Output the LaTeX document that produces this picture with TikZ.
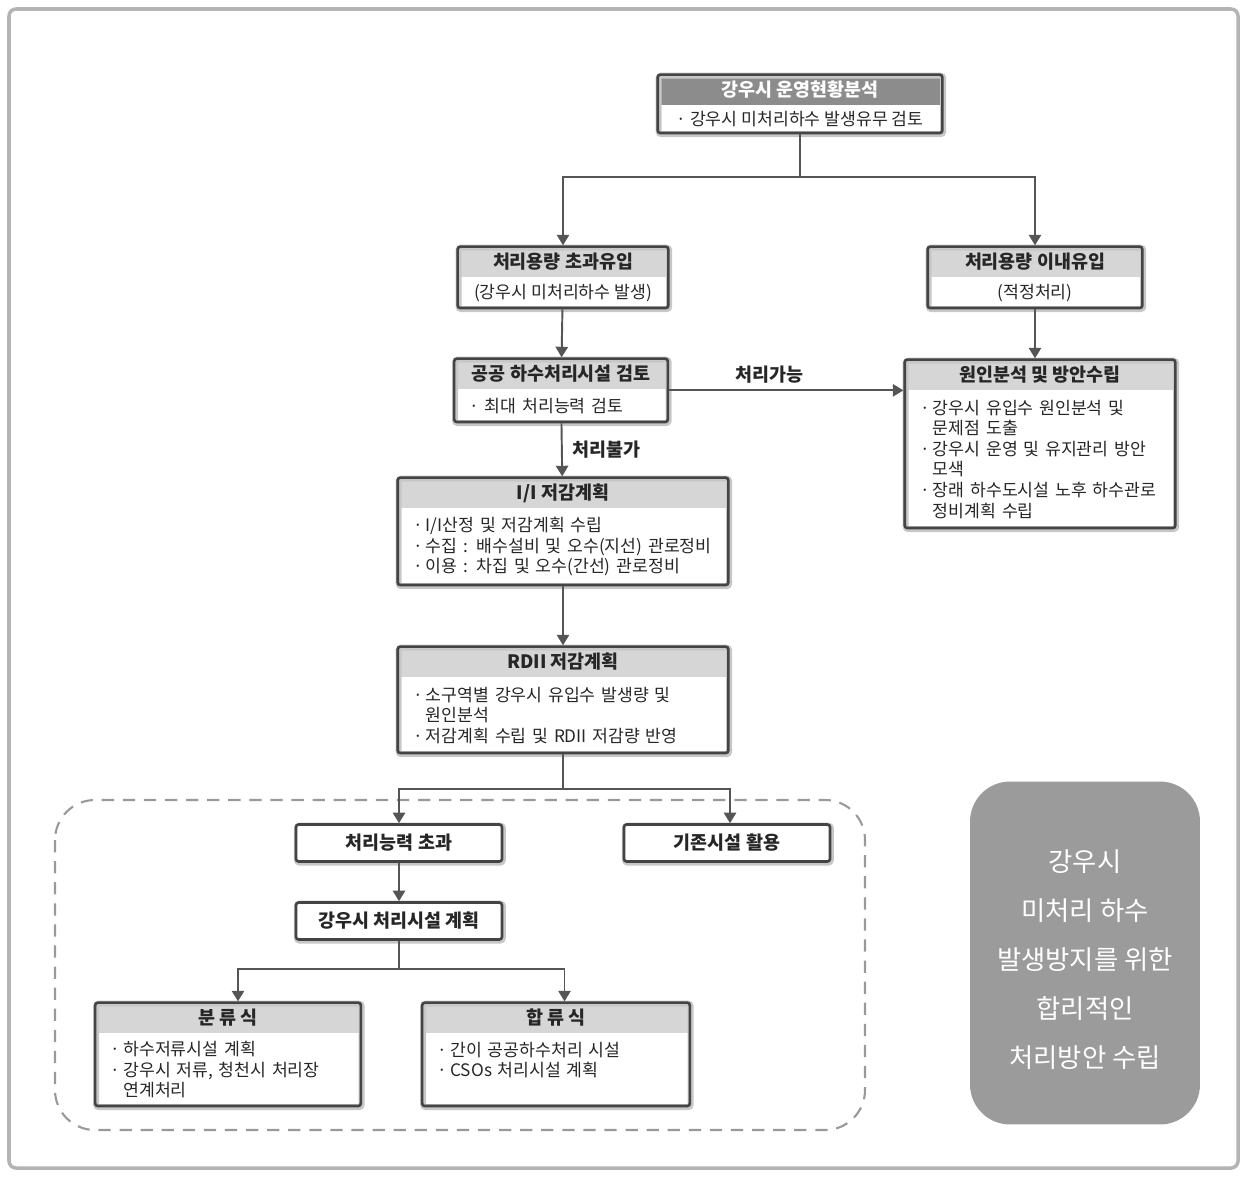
\documentclass[tikz,border=0pt]{standalone}
\usepackage{fontspec}
\usepackage{tikz}
\usetikzlibrary{positioning,fit,arrows.meta}
\setmainfont{Noto Sans CJK KR}
\definecolor{linegray}{HTML}{555555}
\definecolor{boxline}{HTML}{444444}
\definecolor{headgray}{HTML}{D6D6D6}
\definecolor{topgray}{HTML}{8C8C8C}
\definecolor{biggray}{HTML}{9B9B9B}
\definecolor{rimgray}{HTML}{B4B4B4}
\newcommand{\itm}{\makebox[0.75em][l]{·}}
\newcommand{\cnt}{\hspace*{0.75em}}

\tikzset{
  head/.style={fill=headgray, minimum height=0.6cm, inner sep=0pt,
    font=\bfseries\fontsize{10.5}{12}\selectfont, text=black!85},
  body/.style={inner xsep=0.3cm, inner ysep=0.1cm, align=left,
    font=\fontsize{9.8}{11.7}\selectfont, text=black!85},
  frame/.style={draw=boxline, line width=1.5pt, rounded corners=1.5pt, inner sep=0pt,
    preaction={draw=black!22, line width=3.4pt, transform canvas={shift={(0.5pt,-0.6pt)}}}},
  single/.style={frame, fill=white, minimum width=4.12cm, minimum height=0.74cm,
    font=\bfseries\fontsize{10.5}{12}\selectfont, text=black!85},
  arr/.style={draw=linegray, line width=1.1pt, -{Triangle[length=6pt,width=7pt]}},
  link/.style={draw=linegray, line width=1.1pt},
}

\begin{document}
\begin{tikzpicture}[x=0.02cm,y=-0.02cm]
\useasboundingbox (0,0) rectangle (1243,1176);
\draw[rimgray, line width=2pt, rounded corners=4pt] (9,9) rectangle (1238,1168);
%
% top box
\node[head, fill=topgray, text=white, minimum width=5.68cm] (tophd) at (800,90) {강우시 운영현황분석};
\node[body, align=center, inner xsep=0pt, minimum width=5.68cm, minimum height=0.54cm, below=0pt of tophd] (topbd) {· 강우시 미처리하수 발생유무 검토};
\node[frame, fit=(tophd)(topbd)] (top) {};
%
% two inflow cases
\node[head, minimum width=4.2cm] (overhd) at (563,262) {처리용량 초과유입};
\node[body, align=center, inner xsep=0pt, minimum width=4.2cm, minimum height=0.6cm, below=0pt of overhd] (overbd) {(강우시 미처리하수 발생)};
\node[frame, fit=(overhd)(overbd)] (over) {};
%
\node[head, minimum width=4.28cm] (inhd) at (1035,262) {처리용량 이내유입};
\node[body, align=center, inner xsep=0pt, minimum width=4.28cm, minimum height=0.6cm, below=0pt of inhd] (inbd) {(적정처리)};
\node[frame, fit=(inhd)(inbd)] (in) {};
%
\node[head, minimum width=4.26cm] (pubhd) at (561,374) {공공 하수처리시설 검토};
\node[body, text width=3.66cm, minimum height=0.64cm, below=0pt of pubhd] (pubbd) {· 최대 처리능력 검토};
\node[frame, fit=(pubhd)(pubbd)] (pub) {};
%
\node[head, minimum width=5.4cm] (causehd) at (1040,375) {원인분석 및 방안수립};
\node[body, text width=4.8cm, minimum height=2.74cm, below=0pt of causehd] (causebd)
  {\itm 강우시 유입수 원인분석 및\\ \cnt 문제점 도출\\ \itm 강우시 운영 및 유지관리 방안\\ \cnt 모색\\ \itm 장래 하수도시설 노후 하수관로\\ \cnt 정비계획 수립};
\node[frame, fit=(causehd)(causebd)] (cause) {};
%
\node[head, minimum width=6.6cm] (iihd) at (563,493) {I/I 저감계획};
\node[body, text width=6.0cm, minimum height=1.52cm, below=0pt of iihd] (iibd)
  {\itm I/I산정 및 저감계획 수립\\ \itm 수집 : 배수설비 및 오수(지선) 관로정비\\ \itm 이용 : 차집 및 오수(간선) 관로정비};
\node[frame, fit=(iihd)(iibd)] (ii) {};
%
\node[head, minimum width=6.6cm] (rdiihd) at (563,662) {RDII 저감계획};
\node[body, text width=6.0cm, minimum height=1.5cm, below=0pt of rdiihd] (rdiibd)
  {\itm 소구역별 강우시 유입수 발생량 및\\ \cnt 원인분석\\ \itm 저감계획 수립 및 RDII 저감량 반영};
\node[frame, fit=(rdiihd)(rdiibd)] (rdii) {};
%
% dashed group
\draw[rimgray!85!black, line width=1.2pt, dash pattern=on 7pt off 5pt, rounded corners=0.8cm] (55,800) rectangle (865,1130);
\node[single] (excess) at (399,843) {처리능력 초과};
\node[single] (reuse) at (727,843) {기존시설 활용};
\node[single] (plan) at (399,921) {강우시 처리시설 계획};
%
\node[head, minimum width=5.3cm] (seprhd) at (228,1018) {분 류 식};
\node[body, text width=4.7cm, minimum height=1.44cm, below=0pt of seprhd] (seprbd)
  {\itm 하수저류시설 계획\\ \itm 강우시 저류, 청천시 처리장\\ \cnt 연계처리};
\node[frame, fit=(seprhd)(seprbd)] (sepr) {};
%
\node[head, minimum width=5.34cm] (combhd) at (556,1018) {합 류 식};
\node[body, text width=4.74cm, minimum height=1.44cm, below=0pt of combhd] (combbd)
  {\itm 간이 공공하수처리 시설\\ \itm CSOs 처리시설 계획\\ \mbox{}};
\node[frame, fit=(combhd)(combbd)] (comb) {};
%
% summary
\node[fill=biggray, rounded corners=0.8cm, minimum width=4.6cm, minimum height=6.86cm] (sumbox) at (1085,953) {};
\node[text=white, align=center, font=\fontsize{15}{27.9}\selectfont] (sumtxt) at (1085,960)
  {강우시\\ 미처리 하수\\ 발생방지를 위한\\ 합리적인\\ 처리방안 수립};
%
% connectors
\draw[link] (top.south) -- ++(0,43) coordinate (split);
\draw[arr] (split) -| (over.north);
\draw[arr] (split) -| (in.north);
\draw[arr] (over) -- (pub);
\draw[arr] (in) -- (in |- cause.north);
\draw[arr] (pub.east) -- (pub.east -| cause.west) node[pos=0.43, above, font=\bfseries\fontsize{10.5}{12}\selectfont, text=black!85] {처리가능};
\draw[arr] (pub) -- (ii) node[midway, right=2pt, font=\bfseries\fontsize{10.5}{12}\selectfont, text=black!85] {처리불가};
\draw[arr] (ii) -- (rdii);
\draw[link] (rdii.south) -- ++(0,35) coordinate (fork);
\draw[arr] (fork) -| (excess.north);
\draw[arr] (fork) -| ([xshift=0.06cm]reuse.north);
\draw[arr] (excess) -- (plan);
\draw[link] (plan.south) -- ++(0,28) coordinate (branch);
\draw[arr] (branch) -| ([xshift=0.2cm]sepr.north);
\draw[arr] (branch) -| ([xshift=0.17cm]comb.north);
\end{tikzpicture}
\end{document}
